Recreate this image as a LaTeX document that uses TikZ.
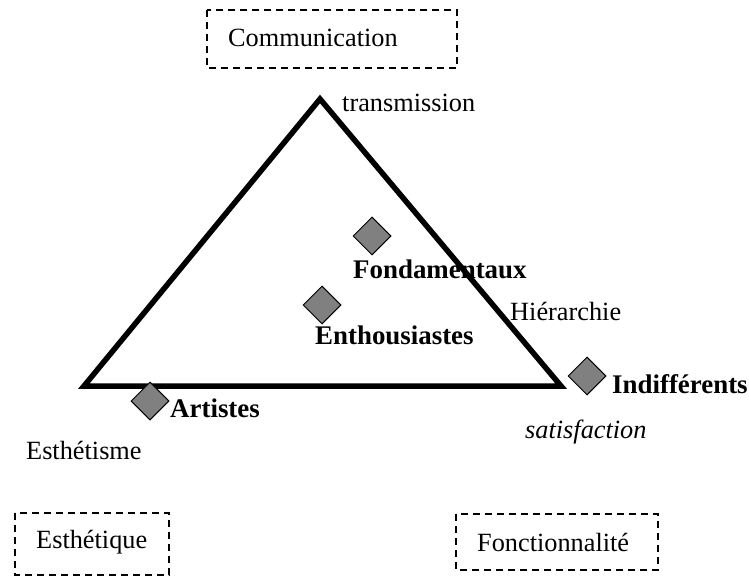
\documentclass[tikz,border=0pt]{standalone}
\usepackage{fontspec}
\setmainfont{Liberation Serif}
\usetikzlibrary{shapes.geometric}
\definecolor{diagray}{RGB}{128,128,128}
\tikzset{
  lbl/.style={inner sep=0pt, anchor=base west, font=\fontsize{26.3}{30}\selectfont},
  blbl/.style={lbl, font=\fontsize{26.9}{30}\selectfont\bfseries},
  ilbl/.style={lbl, font=\fontsize{26.3}{30}\selectfont\itshape},
  dbox/.style={draw=black, line width=1.6pt, dash pattern=on 7pt off 5pt},
  gem/.style={diamond, draw=black, line width=1pt, fill=diagray, inner sep=0pt, minimum width=38pt, minimum height=38pt},
  tri/.style={draw=black, line width=5.5pt, line join=miter}
}
\begin{document}
\begin{tikzpicture}[x=1pt,y=-1pt]
\useasboundingbox (0,0) rectangle (749,577);
% dashed boxes
\draw[dbox] (207,10) rectangle (457,68);
\draw[dbox] (15,513) rectangle (169,575);
\draw[dbox] (456,514) rectangle (658,570);
% triangle
\coordinate (apex) at (320,99);
\coordinate (bl) at (84,386);
\coordinate (br) at (561,386);
\draw[tri] (apex) -- (bl) -- (br) -- cycle;
% diamonds
\node[gem] (dfond) at (372,236) {};
\node[gem] (denth) at (322,305) {};
\node[gem] (dart) at (150,401) {};
\node[gem] (dind) at (587,376) {};
% labels
\node[lbl] (comm) at (228,47) {Communication};
\node[lbl] (trans) at (342,112) {transmission};
\node[blbl] (fond) at (353,278) {Fondamentaux};
\node[blbl] (enth) at (315,344) {Enthousiastes};
\node[lbl] (hier) at (510,320) {Hiérarchie};
\node[blbl] (art) at (170,417) {Artistes};
\node[blbl] (ind) at (612,393) {Indifférents};
\node[lbl] (esthm) at (26,459) {Esthétisme};
\node[ilbl] (satis) at (525,438) {satisfaction};
\node[lbl] (estq) at (36,548) {Esthétique};
\node[lbl] (fonc) at (477,551) {Fonctionnalité};
\end{tikzpicture}
\end{document}
